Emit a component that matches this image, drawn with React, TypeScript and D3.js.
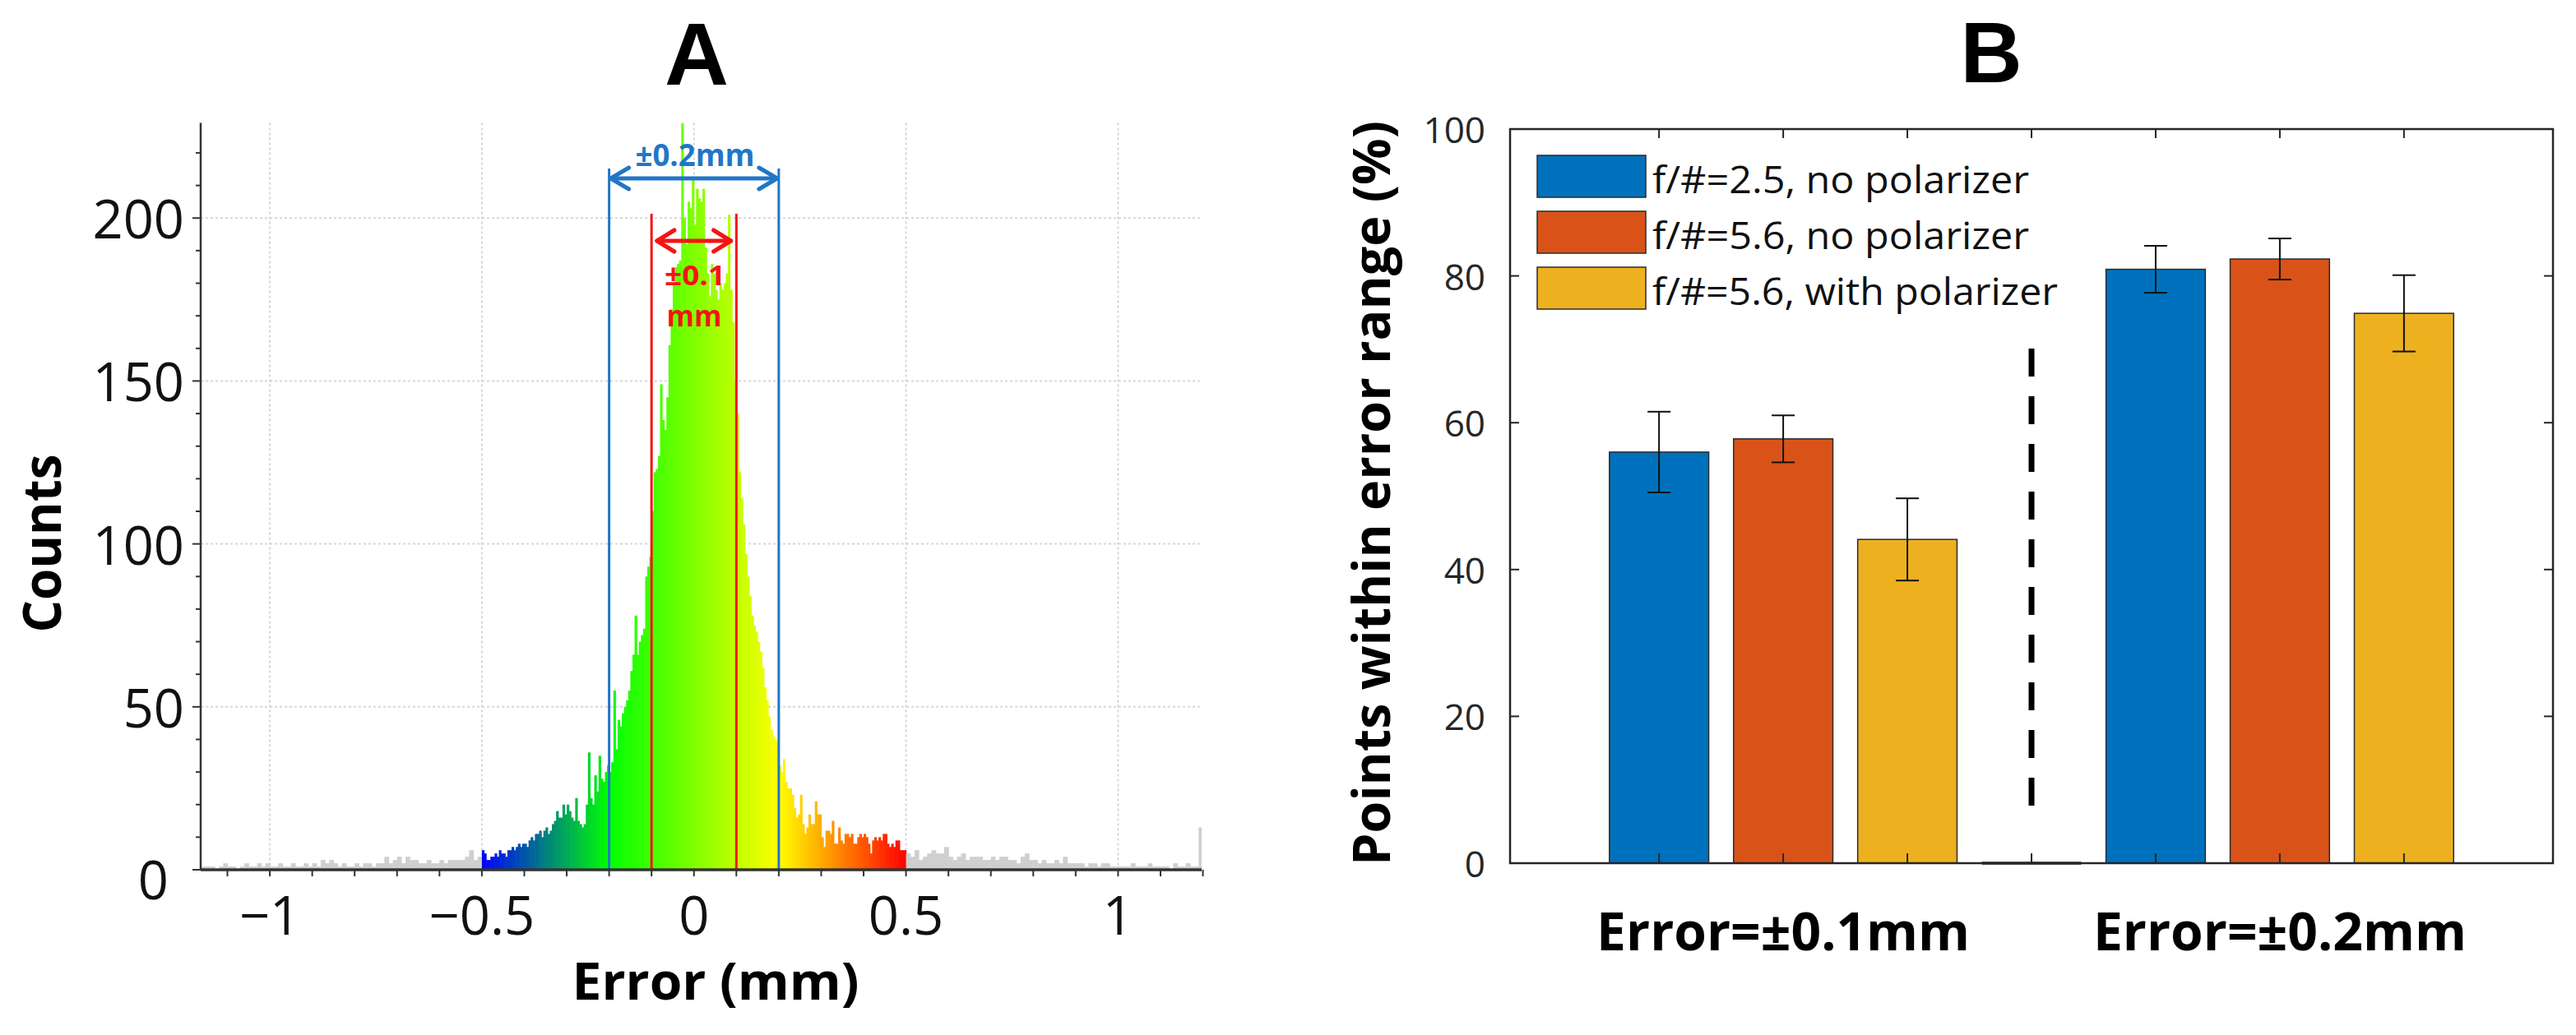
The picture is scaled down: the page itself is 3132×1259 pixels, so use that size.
import React from "react";
import * as d3 from "d3";

// ---------------- Panel A: error histogram ----------------
const coreStart = -0.5;
const coreBinWidth = 0.005;
const coreCounts = [
  6, 5, 3, 3, 4, 4, 5, 4, 6, 5, 5, 4, 6, 6, 7, 6, 7, 8, 7, 8,
  8, 7, 9, 10, 9, 11, 11, 12, 10, 12, 13, 11, 12, 14, 15, 18, 16, 16, 20, 17,
  20, 18, 16, 15, 22, 15, 14, 13, 14, 20, 36, 22, 20, 29, 24, 35, 28, 27, 30, 32,
  30, 33, 55, 37, 46, 44, 48, 50, 52, 55, 61, 66, 78, 66, 70, 72, 74, 90, 93, 96,
  110, 122, 123, 127, 149, 138, 135, 145, 161, 172, 180, 185, 186, 187, 240, 200, 192, 205, 203, 212,
  198, 209, 206, 205, 209, 191, 183, 176, 186, 183, 178, 175, 180, 178, 180, 183, 201, 178, 168, 150,
  140, 122, 114, 106, 97, 90, 84, 78, 75, 73, 70, 67, 62, 56, 52, 47, 43, 41, 40, 39,
  32, 30, 34, 27, 25, 25, 23, 19, 16, 17, 23, 14, 11, 13, 17, 14, 14, 21, 17, 17,
  10, 7, 12, 12, 11, 15, 8, 8, 13, 9, 8, 11, 11, 10, 11, 8, 8, 10, 11, 10,
  11, 10, 8, 5, 9, 10, 9, 10, 9, 11, 11, 8, 7, 8, 7, 9, 9, 6, 6, 6,
];
const tailBinWidth = 0.01;
const leftTailStart = -1.16;
const leftTailCounts = [
  1, 1, 1, 0, 1, 2, 1, 1, 0, 1,
  2, 1, 1, 2, 1, 2, 1, 1, 2, 1,
  1, 2, 1, 1, 2, 1, 2, 1, 3, 2,
  3, 2, 1, 2, 1, 1, 2, 1, 2, 2,
  1, 2, 2, 4, 2, 3, 4, 2, 4, 3,
  3, 2, 2, 3, 2, 2, 3, 2, 3, 3,
  3, 3, 4, 6, 3, 4,
];
const rightTailStart = 0.5;
const rightTailCounts = [
  5, 4, 6, 3, 4, 5, 6, 5, 5, 7,
  4, 3, 4, 5, 3, 4, 4, 4, 3, 3,
  4, 3, 4, 4, 3, 3, 2, 4, 5, 3,
  3, 2, 3, 2, 2, 3, 2, 4, 2, 2,
  2, 2, 1, 2, 2, 1, 2, 2, 1, 1,
  1, 1, 1, 2, 1, 1, 1, 2, 1, 1,
  1, 1, 0, 2, 1, 1, 2, 1, 1, 13,
];
const yTicksA = [0, 50, 100, 150, 200];
const xTicksA = [-1, -0.5, 0, 0.5, 1];
const xTickLabelsA = ["\u22121", "\u22120.5", "0", "0.5", "1"];

// ---------------- Panel B: grouped bars ----------------
const groupLabels = ["Error=\u00b10.1mm", "Error=\u00b10.2mm"];
const seriesNames = [
  "f/#=2.5, no polarizer",
  "f/#=5.6, no polarizer",
  "f/#=5.6, with polarizer",
];
const seriesColors = ["#0072BD", "#D95319", "#EDB120"];
const pct01 = [56.0, 57.8, 44.1];
const err01 = [5.5, 3.2, 5.6];
const pct02 = [80.9, 82.3, 74.9];
const err02 = [3.2, 2.8, 5.2];
const yTicksB = [0, 20, 40, 60, 80, 100];

const SANS = "'Open Sans', 'Noto Sans', sans-serif";
const TITLE = "'Liberation Sans', Arial, sans-serif";

export default function App() {
  const W = 3132;
  const H = 1259;

  // ---------- Panel A ----------
  const xDom: [number, number] = [-1.163, 1.197];
  const yTop = 229.2;
  const xA = d3.scaleLinear().domain(xDom).range([244, 1461]);
  const yA = d3.scaleLinear().domain([0, yTop]).range([1058, 149.5]);
  const grad = d3
    .scaleLinear<string>()
    .domain([-0.5, -0.2, 0.2, 0.5])
    .range(["#0000ff", "#00ff00", "#ffff00", "#ff0000"])
    .interpolate(d3.interpolateRgb)
    .clamp(true);
  const bins = [
    ...leftTailCounts.map((c, i) => ({ x0: leftTailStart + i * tailBinWidth, w: tailBinWidth, c })),
    ...coreCounts.map((c, i) => ({ x0: coreStart + i * coreBinWidth, w: coreBinWidth, c })),
    ...rightTailCounts.map((c, i) => ({ x0: rightTailStart + i * tailBinWidth, w: tailBinWidth, c })),
  ];
  const binColor = (mid: number) => (mid < -0.5 || mid > 0.5 ? "#cfcfcf" : grad(mid));
  const minorX = d3.range(-11, 13).map((i) => i / 10).filter((v) => v >= xDom[0] && v <= xDom[1] + 0.005);
  const minorY = d3.range(0, 230, 10);

  const blue = "#2176c7";
  const red = "#f41414";

  // ---------- Panel B ----------
  const xB = d3.scaleLinear().domain([-0.2, 8.2]).range([1836, 3104]);
  const yB = d3.scaleLinear().domain([0, 100]).range([1050, 157]);
  const barW = xB(0.8) - xB(0);
  const barData = [
    ...pct01.map((v, s) => ({ pos: 1 + s, v, e: err01[s], s })),
    ...pct02.map((v, s) => ({ pos: 5 + s, v, e: err02[s], s })),
  ];
  const positions = [1, 2, 3, 4, 5, 6, 7];

  return (
    <div style={{ position: "absolute", left: 0, top: 0, width: W, height: H, overflow: "hidden", background: "#fff" }}>
      <svg width={W} height={H} style={{ display: "block" }} fontFamily={SANS}>
        <rect x={0} y={0} width={W} height={H} fill="#fff" />
        <defs>
          <clipPath id="clipA">
            <rect x={xA(xDom[0])} y={yA(yTop)} width={xA(xDom[1]) - xA(xDom[0])} height={yA(0) - yA(yTop)} />
          </clipPath>
        </defs>

        {/* ===== Panel A ===== */}
        <text x={847} y={103} textAnchor="middle" fontSize={108} fontWeight={700} fontFamily={TITLE} fill="#000">A</text>

        {/* grid */}
        {yTicksA.filter((t) => t > 0).map((t) => (
          <line key={"gy" + t} x1={xA(xDom[0])} x2={xA(xDom[1])} y1={yA(t)} y2={yA(t)} stroke="#d6d6d6" strokeWidth={2} strokeDasharray="3 3" />
        ))}
        {xTicksA.map((t) => (
          <line key={"gx" + t} x1={xA(t)} x2={xA(t)} y1={yA(yTop)} y2={yA(0)} stroke="#d6d6d6" strokeWidth={2} strokeDasharray="3 3" />
        ))}

        {/* histogram */}
        <g clipPath="url(#clipA)">
          {bins.map((b, i) => {
            const x0 = xA(b.x0);
            const x1 = xA(Math.min(b.x0 + b.w, xDom[1]));
            const y = yA(Math.min(b.c, yTop));
            return (
              <rect key={"b" + i} x={x0} y={y} width={Math.max(0, x1 - x0) + 0.6} height={yA(0) - y} fill={binColor(b.x0 + b.w / 2)} />
            );
          })}
        </g>

        {/* range lines */}
        {[-0.2, 0.2].map((v) => (
          <line key={"bl" + v} x1={xA(v)} x2={xA(v)} y1={205} y2={yA(0)} stroke={blue} strokeWidth={3} />
        ))}
        {[-0.1, 0.1].map((v) => (
          <line key={"rl" + v} x1={xA(v)} x2={xA(v)} y1={260} y2={yA(0)} stroke={red} strokeWidth={3} />
        ))}
        {/* blue arrow */}
        <g stroke={blue} strokeWidth={5} fill="none" strokeLinecap="round" strokeLinejoin="round">
          <line x1={xA(-0.2) + 2} x2={xA(0.2) - 2} y1={217} y2={217} />
          <polyline points={`${xA(-0.2) + 24},${204} ${xA(-0.2) + 2},${217} ${xA(-0.2) + 24},${230}`} />
          <polyline points={`${xA(0.2) - 24},${204} ${xA(0.2) - 2},${217} ${xA(0.2) - 24},${230}`} />
        </g>
        <text x={845} y={202} textAnchor="middle" fontSize={37} fontWeight={700} fill={blue} textLength={145} lengthAdjust="spacingAndGlyphs">±0.2mm</text>
        {/* red arrow */}
        <g stroke={red} strokeWidth={5} fill="none" strokeLinecap="round" strokeLinejoin="round">
          <line x1={xA(-0.087)} x2={xA(0.087)} y1={293} y2={293} />
          <polyline points={`${xA(-0.087) + 21},${280} ${xA(-0.087)},${293} ${xA(-0.087) + 21},${306}`} />
          <polyline points={`${xA(0.087) - 21},${280} ${xA(0.087)},${293} ${xA(0.087) - 21},${306}`} />
        </g>
        <text x={845} y={347} textAnchor="middle" fontSize={34} fontWeight={700} fill={red} textLength={74} lengthAdjust="spacingAndGlyphs">±0.1</text>
        <text x={844} y={397} textAnchor="middle" fontSize={36} fontWeight={700} fill={red} textLength={67} lengthAdjust="spacingAndGlyphs">mm</text>

        {/* axes A */}
        <line x1={xA(xDom[0])} x2={xA(xDom[0])} y1={yA(yTop)} y2={yA(0)} stroke="#333" strokeWidth={2.5} />
        {minorY.map((t) => (
          <line key={"ty" + t} x1={xA(xDom[0]) - (t % 50 === 0 ? 10 : 6)} x2={xA(xDom[0])} y1={yA(t)} y2={yA(t)} stroke="#333" strokeWidth={2} />
        ))}
        <line x1={xA(xDom[0])} x2={xA(xDom[1])} y1={yA(0)} y2={yA(0)} stroke="#333" strokeWidth={3.5} />
        {minorX.map((t) => (
          <line key={"tx" + t} x1={xA(t)} x2={xA(t)} y1={yA(0)} y2={yA(0) + 8} stroke="#333" strokeWidth={2} />
        ))}
        {yTicksA.map((t) => (
          <text key={"ly" + t} x={t === 0 ? 205 : 224} y={yA(t) + (t === 0 ? 11 : 0)} textAnchor="end" dominantBaseline="central" fontSize={65} fill="#111">
            {String(t)}
          </text>
        ))}
        {xTicksA.map((t, i) => (
          <text key={"lx" + t} x={xA(t)} y={1137} textAnchor="middle" fontSize={65} fill="#111">
            {xTickLabelsA[i]}
          </text>
        ))}
        <text x={870} y={1216} textAnchor="middle" fontSize={62} fontWeight={700} fill="#000" textLength={349} lengthAdjust="spacingAndGlyphs">Error (mm)</text>
        <text transform="translate(74,661) rotate(-90)" textAnchor="middle" fontSize={65} fontWeight={700} fill="#000" textLength={217} lengthAdjust="spacingAndGlyphs">Counts</text>

        {/* ===== Panel B ===== */}
        <text x={2421} y={100} textAnchor="middle" fontSize={104} fontWeight={700} fontFamily={TITLE} fill="#000">B</text>

        {/* bars */}
        {barData.map((d, i) => (
          <rect key={"bar" + i} x={xB(d.pos) - barW / 2} y={yB(d.v)} width={barW} height={yB(0) - yB(d.v)} fill={seriesColors[d.s]} stroke="#2b2b2b" strokeWidth={1.5} />
        ))}
        {/* zero-height separator bar */}
        <line x1={xB(4) - barW / 2} x2={xB(4) + barW / 2} y1={yB(0)} y2={yB(0)} stroke="#222" strokeWidth={3.5} />
        {/* error bars */}
        {barData.map((d, i) => (
          <g key={"eb" + i} stroke="#111" strokeWidth={2}>
            <line x1={xB(d.pos)} x2={xB(d.pos)} y1={yB(d.v + d.e)} y2={yB(d.v - d.e)} />
            <line x1={xB(d.pos) - 14} x2={xB(d.pos) + 14} y1={yB(d.v + d.e)} y2={yB(d.v + d.e)} />
            <line x1={xB(d.pos) - 14} x2={xB(d.pos) + 14} y1={yB(d.v - d.e)} y2={yB(d.v - d.e)} />
          </g>
        ))}
        {/* dashed separator */}
        <line x1={xB(4)} x2={xB(4)} y1={yB(70.1)} y2={yB(5.9)} stroke="#000" strokeWidth={7} strokeDasharray="34 24" />

        {/* box & ticks */}
        <rect x={xB(-0.2)} y={yB(100)} width={xB(8.2) - xB(-0.2)} height={yB(0) - yB(100)} fill="none" stroke="#262626" strokeWidth={2.5} />
        {yTicksB.map((t) => (
          <g key={"tb" + t} stroke="#262626" strokeWidth={2}>
            <line x1={xB(-0.2)} x2={xB(-0.2) + 11} y1={yB(t)} y2={yB(t)} />
            <line x1={xB(8.2) - 11} x2={xB(8.2)} y1={yB(t)} y2={yB(t)} />
          </g>
        ))}
        {positions.map((p) => (
          <g key={"tp" + p} stroke="#262626" strokeWidth={2}>
            <line x1={xB(p)} x2={xB(p)} y1={yB(100)} y2={yB(100) + 11} />
            <line x1={xB(p)} x2={xB(p)} y1={yB(0)} y2={yB(0) - 12} />
          </g>
        ))}
        {yTicksB.map((t) => (
          <text key={"lb" + t} x={1806} y={yB(t)} textAnchor="end" dominantBaseline="central" fontSize={44} fill="#262626">
            {String(t)}
          </text>
        ))}

        {/* legend */}
        {seriesNames.map((name, i) => {
          const top = 189 + i * 68;
          return (
            <g key={"lg" + i}>
              <rect x={1869} y={top} width={132} height={51} fill={seriesColors[i]} stroke="#2b2b2b" strokeWidth={1.5} />
              <text x={2009} y={top + 46} fontSize={45} fill="#111" textLength={i === 2 ? 493 : 458} lengthAdjust="spacingAndGlyphs">
                {name}
              </text>
            </g>
          );
        })}

        {/* group labels */}
        {groupLabels.map((g, i) => (
          <text key={"gl" + i} x={xB(2 + 4 * i)} y={1156} textAnchor="middle" fontSize={64} fontWeight={700} fill="#000" textLength={454} lengthAdjust="spacingAndGlyphs">
            {g}
          </text>
        ))}
        <text transform="translate(1690,600) rotate(-90)" textAnchor="middle" fontSize={62} fontWeight={700} fill="#000" textLength={906} lengthAdjust="spacingAndGlyphs">
          Points within error range (%)
        </text>
      </svg>
    </div>
  );
}
